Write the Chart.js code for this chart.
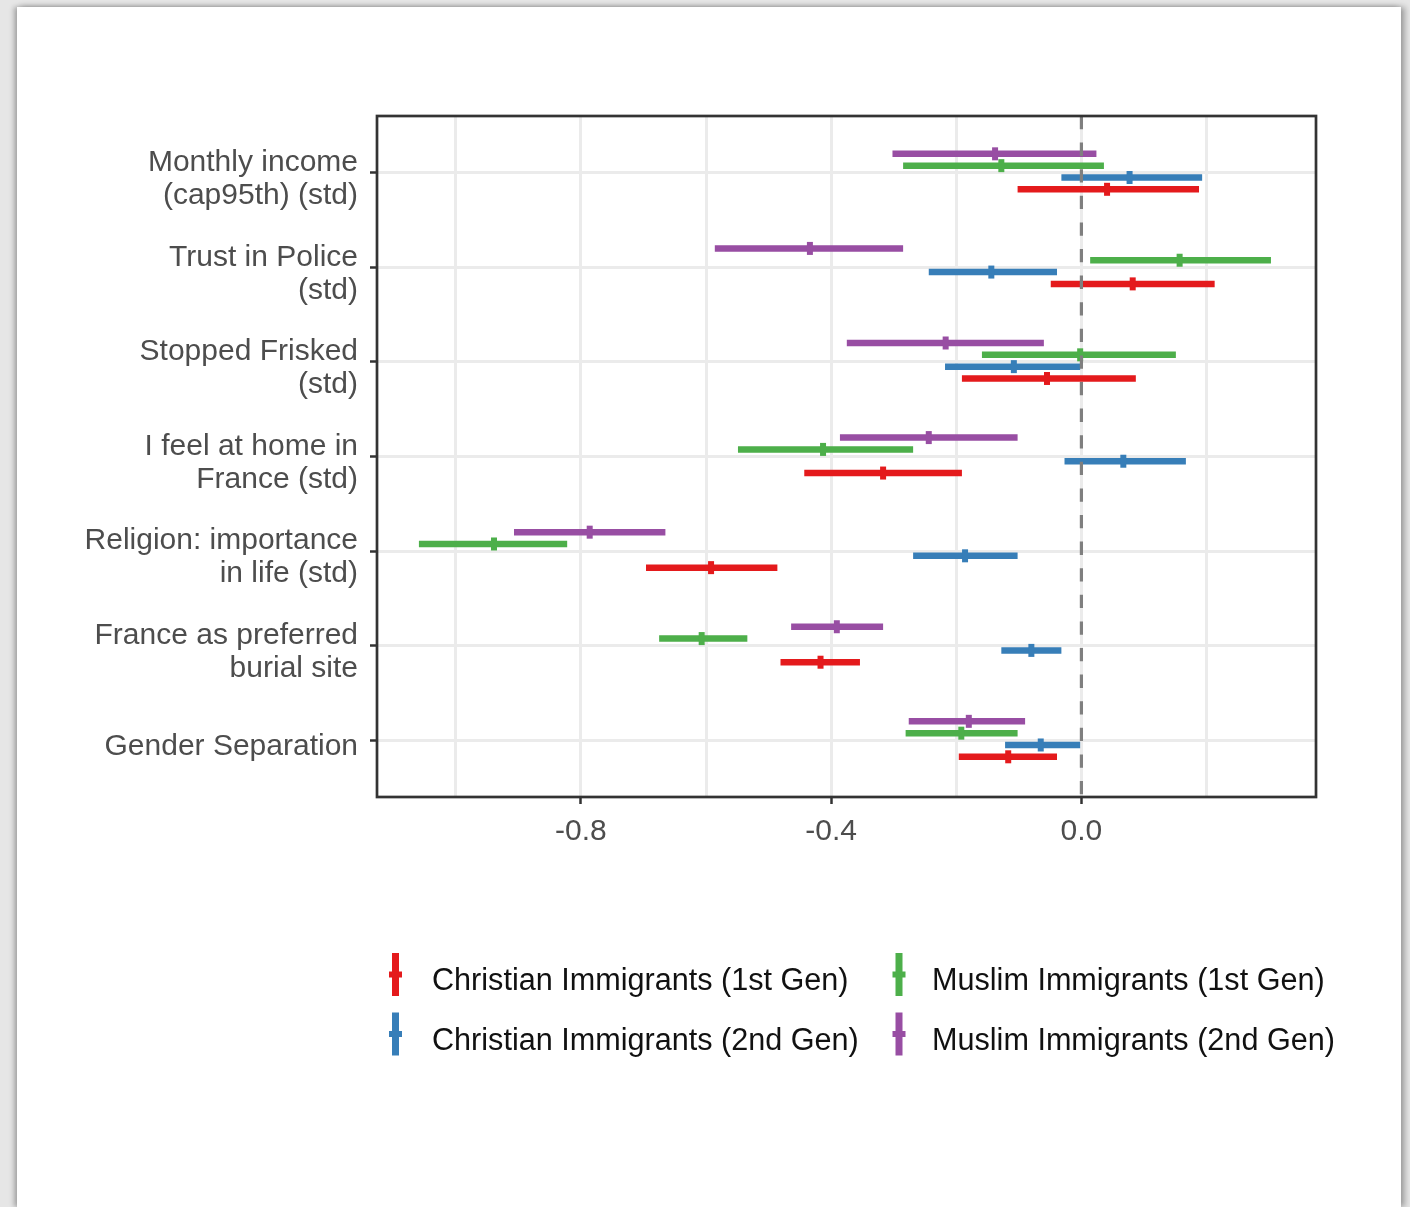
<!DOCTYPE html>
<html>
<head>
<meta charset="utf-8">
<title>Coefficient plot</title>
<script src="https://cdn.jsdelivr.net/npm/chart.js@4.4.1/dist/chart.umd.min.js"></script>
<style>
  html, body { margin: 0; padding: 0; background: #e6e6e6; overflow: hidden; }
  #card {
    position: absolute; left: 17px; top: 7px; width: 1384px; height: 1200px;
    background: #ffffff;
    box-shadow: -3px 0 5px rgba(0,0,0,0.28), 4px 0 6px rgba(0,0,0,0.30);
  }
  canvas { display: block; }
</style>
</head>
<body>
<div id="card"><canvas id="chart" width="1384" height="1200"></canvas></div>
<script>
// Outcome labels, top to bottom
const categories = [
  ["Monthly income", "(cap95th) (std)"],
  ["Trust in Police", "(std)"],
  ["Stopped Frisked", "(std)"],
  ["I feel at home in", "France (std)"],
  ["Religion: importance", "in life (std)"],
  ["France as preferred", "burial site"],
  ["Gender Separation"]
];

const seriesNames = [
  "Christian Immigrants (1st Gen)",
  "Christian Immigrants (2nd Gen)",
  "Muslim Immigrants (1st Gen)",
  "Muslim Immigrants (2nd Gen)"
];

const xTickValues = [-0.8, -0.4, 0.0];
const xGridValues = [-1.0, -0.8, -0.6, -0.4, -0.2, 0.0, 0.2];

// Point estimates and confidence bounds, one entry per outcome
const christian1Est  = [0.041, 0.082, -0.055, -0.317, -0.592, -0.417, -0.117];
const christian1Low  = [-0.102, -0.049, -0.191, -0.443, -0.696, -0.481, -0.196];
const christian1High = [0.188, 0.213, 0.087, -0.191, -0.486, -0.354, -0.039];

const christian2Est  = [0.077, -0.144, -0.108, 0.067, -0.186, -0.080, -0.065];
const christian2Low  = [-0.032, -0.244, -0.218, -0.027, -0.269, -0.128, -0.122];
const christian2High = [0.193, -0.039, -0.002, 0.167, -0.102, -0.032, -0.002];

const muslim1Est  = [-0.128, 0.157, -0.002, -0.413, -0.939, -0.607, -0.192];
const muslim1Low  = [-0.285, 0.014, -0.159, -0.549, -1.059, -0.675, -0.281];
const muslim1High = [0.036, 0.303, 0.151, -0.269, -0.822, -0.534, -0.102];

const muslim2Est  = [-0.138, -0.434, -0.217, -0.244, -0.786, -0.391, -0.180];
const muslim2Low  = [-0.302, -0.586, -0.375, -0.386, -0.907, -0.464, -0.276];
const muslim2High = [0.024, -0.285, -0.060, -0.102, -0.665, -0.317, -0.090];

const palette = ["#e41a1c", "#377eb8", "#4daf4a", "#984ea3"];

const series = [
  { name: seriesNames[0], est: christian1Est, low: christian1Low, high: christian1High, color: palette[0], slot: 3 },
  { name: seriesNames[1], est: christian2Est, low: christian2Low, high: christian2High, color: palette[1], slot: 2 },
  { name: seriesNames[2], est: muslim1Est,    low: muslim1Low,    high: muslim1High,    color: palette[2], slot: 1 },
  { name: seriesNames[3], est: muslim2Est,    low: muslim2Low,    high: muslim2High,    color: palette[3], slot: 0 }
];

// vertical dodge within each outcome row (in category units)
const dodgeStep = 0.125;
const dodge = slot => (slot - 1.5) * dodgeStep - 0.0125;

const datasets = [];
series.forEach(s => {
  const off = dodge(s.slot);
  datasets.push({
    label: s.name,
    data: s.est.map((v, i) => ({ x: v, y: i + off })),
    pointStyle: 'line',
    rotation: 90,
    pointRadius: 6.5,
    pointHoverRadius: 6.5,
    pointBorderWidth: 6,
    borderColor: s.color,
    backgroundColor: s.color,
    showLine: false,
    order: 0
  });
  const seg = [];
  s.low.forEach((lo, i) => {
    seg.push({ x: lo, y: i + off }, { x: s.high[i], y: i + off }, { x: null, y: null });
  });
  datasets.push({
    label: s.name + ' interval',
    data: seg,
    showLine: true,
    spanGaps: false,
    borderColor: s.color,
    backgroundColor: s.color,
    borderWidth: 6.5,
    borderCapStyle: 'butt',
    pointRadius: 0,
    pointHoverRadius: 0,
    tension: 0,
    order: 1
  });
});

const FONT = '"Liberation Sans", Arial, Helvetica, sans-serif';

// dashed reference line at zero and the dark panel frame
const panelDecor = {
  id: 'panelDecor',
  afterDatasetsDraw(chart) {
    const { ctx, chartArea: a, scales } = chart;
    const x0 = scales.x.getPixelForValue(0);
    ctx.save();
    ctx.strokeStyle = '#7f7f7f';
    ctx.lineWidth = 3.2;
    ctx.setLineDash([13.3, 13.3]);
    ctx.beginPath();
    ctx.moveTo(x0, a.top);
    ctx.lineTo(x0, a.bottom);
    ctx.stroke();
    ctx.setLineDash([]);
    ctx.strokeStyle = '#333333';
    ctx.lineWidth = 2.7;
    ctx.strokeRect(a.left, a.top, a.right - a.left, a.bottom - a.top);
    ctx.restore();
  }
};

// two-column legend below the panel
const bottomLegend = {
  id: 'bottomLegend',
  afterDraw(chart) {
    const { ctx } = chart;
    const layout = [
      [0, 2],
      [1, 3]
    ];
    const colGlyphX = [378.5, 882];
    const colTextX = [415, 915];
    const rowCenterY = [967.5, 1027];
    const rowBaseline = [983, 1043];
    ctx.save();
    ctx.font = '30.6px ' + FONT;
    ctx.textAlign = 'left';
    ctx.textBaseline = 'alphabetic';
    layout.forEach((row, r) => {
      row.forEach((si, c) => {
        const s = series[si];
        const cx = colGlyphX[c], cy = rowCenterY[r];
        ctx.fillStyle = s.color;
        ctx.fillRect(cx - 3.5, cy - 21.5, 7, 43);
        ctx.fillRect(cx - 6.5, cy - 3, 13, 6);
        ctx.fillStyle = '#111';
        ctx.fillText(s.name, colTextX[c], rowBaseline[r]);
      });
    });
    ctx.restore();
  }
};

const isMajor = v => xTickValues.some(t => Math.abs(t - v) < 1e-9);

new Chart(document.getElementById('chart'), {
  type: 'scatter',
  data: { datasets },
  plugins: [panelDecor, bottomLegend],
  options: {
    responsive: false,
    animation: false,
    devicePixelRatio: 1,
    layout: { padding: { top: 109, right: 85, left: 0, bottom: 0 } },
    plugins: {
      legend: { display: false },
      tooltip: { enabled: false }
    },
    scales: {
      x: {
        type: 'linear',
        min: -1.126,
        max: 0.375,
        afterBuildTicks(scale) {
          scale.ticks = xGridValues.map(v => ({ value: v }));
        },
        afterFit(scale) { scale.height = 410; },
        border: { display: false },
        grid: {
          color: '#ebebeb',
          lineWidth: 3,
          tickLength: 7,
          tickWidth: 2.5,
          tickColor: ctx => (ctx.tick && isMajor(ctx.tick.value)) ? '#333333' : 'rgba(0,0,0,0)'
        },
        ticks: {
          autoSkip: false,
          maxRotation: 0,
          padding: 10,
          color: '#4d4d4d',
          font: { family: FONT, size: 30 },
          callback: v => isMajor(v) ? v.toFixed(1) : ''
        }
      },
      y: {
        type: 'linear',
        reverse: true,
        min: -0.6,
        max: 6.6,
        afterBuildTicks(scale) {
          scale.ticks = categories.map((_, i) => ({ value: i }));
        },
        afterFit(scale) { scale.width = 360; },
        border: { display: false },
        grid: {
          color: '#ebebeb',
          lineWidth: 3,
          tickLength: 7,
          tickWidth: 2.5,
          tickColor: '#333333'
        },
        ticks: {
          autoSkip: false,
          padding: 12,
          labelOffset: 6.5,
          color: '#4d4d4d',
          font: { family: FONT, size: 30, lineHeight: 1.1 },
          callback: v => categories[v]
        }
      }
    }
  }
});
</script>
</body>
</html>
